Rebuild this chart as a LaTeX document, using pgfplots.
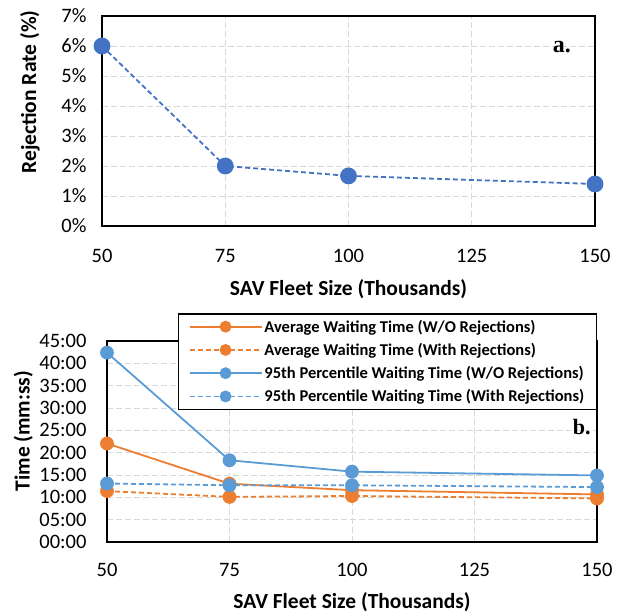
\documentclass[border=0pt]{standalone}
\usepackage{fontspec}
\setmainfont{Carlito}
\newfontfamily\timesfont{Liberation Serif}
\usepackage{pgfplots}
\pgfplotsset{compat=1.18}
\definecolor{exblue}{HTML}{4472C4}
\definecolor{exorange}{HTML}{ED7D31}
\definecolor{exlblue}{HTML}{5B9BD5}
\definecolor{gridgray}{HTML}{D9D9D9}
\begin{document}
\begin{tikzpicture}
\useasboundingbox (0pt,0pt) rectangle (619pt,614pt);
\pgfplotsset{common/.style={
  scale only axis, clip=false,
  axis line style={black,line width=1.6pt},
  major tick length=0pt,
  grid=major,
  major grid style={gridgray, dash pattern=on 6pt off 3pt, line width=1pt},
  tick label style={font=\fontsize{20.5}{22}\selectfont},
  label style={font=\bfseries\fontsize{21.5}{24}\selectfont},
  xmin=50, xmax=150,
  xtick={50,75,100,125,150},
  xticklabels={50,75,100,125,150},
}}
% ---------------- panel a ----------------
\begin{axis}[common,
  at={(102pt,388pt)}, anchor=south west,
  width=493pt, height=210pt,
  ymin=0, ymax=7,
  ytick={0,1,2,3,4,5,6,7},
  yticklabels={0\%,1\%,2\%,3\%,4\%,5\%,6\%,7\%},
  yticklabel style={xshift=-12pt},
  xticklabel style={yshift=-20pt},
  xlabel={SAV Fleet Size (Thousands)},
  ylabel={Rejection Rate (\%)},
  xlabel style={at={(axis description cs:0.5,-0.3)}, anchor=center},
  ylabel style={at={(axis description cs:-0.146,0.638)}, anchor=center},
]
\addplot[exblue, line width=1.8pt, dash pattern=on 5pt off 3pt, mark=*, mark size=7.5pt, mark options={solid, fill=exblue}]
  coordinates {(50,6.0) (75,2.0) (100,1.67) (150,1.4)};
\node[font=\timesfont\bfseries\fontsize{24}{26}\selectfont] at (axis cs:143.3,5.97) {a.};
\end{axis}
% ---------------- panel b ----------------
\begin{axis}[common,
  at={(107pt,72pt)}, anchor=south west,
  width=490pt, height=201pt,
  ymin=0, ymax=45,
  ytick={0,5,10,15,20,25,30,35,40,45},
  yticklabels={00:00,05:00,10:00,15:00,20:00,25:00,30:00,35:00,40:00,45:00},
  yticklabel style={xshift=-17pt},
  xticklabel style={yshift=-18pt},
  xlabel={SAV Fleet Size (Thousands)},
  ylabel={Time (mm:ss)},
  xlabel style={at={(axis description cs:0.5,-0.298)}, anchor=center},
  ylabel style={at={(axis description cs:-0.171,0.552)}, anchor=center},
  legend cell align=left,
  legend image code/.code={
    \draw[mark repeat=2,mark phase=2,#1,line width=1.8pt,mark size=5pt] plot coordinates {(0pt,0pt) (36pt,0pt) (72pt,0pt)};
  },
  legend style={at={(axis description cs:1,1.139)}, anchor=north east,
    draw=black, line width=1.5pt, fill=white,
    font=\bfseries\fontsize{16.5}{18}\selectfont,
    row sep=5.5pt, inner xsep=10pt, inner ysep=4pt},
]
\addplot[exorange, line width=1.8pt, solid, mark=*, mark size=6pt, mark options={solid, fill=exorange}]
  coordinates {(50,22.05) (75,13.05) (100,11.6) (150,10.65)};
\addlegendentry{Average Waiting Time (W/O Rejections)}
\addplot[exorange, line width=1.8pt, dash pattern=on 5pt off 3pt, mark=*, mark size=6pt, mark options={solid, fill=exorange}]
  coordinates {(50,11.4) (75,10.1) (100,10.3) (150,9.75)};
\addlegendentry{Average Waiting Time (With Rejections)}
\addplot[exlblue, line width=1.8pt, solid, mark=*, mark size=6pt, mark options={solid, fill=exlblue}]
  coordinates {(50,42.4) (75,18.3) (100,15.75) (150,14.9)};
\addlegendentry{95th Percentile Waiting Time (W/O Rejections)}
\addplot[exlblue, line width=1.8pt, dash pattern=on 5pt off 3pt, mark=*, mark size=6pt, mark options={solid, fill=exlblue}]
  coordinates {(50,13.1) (75,12.7) (100,12.7) (150,12.3)};
\addlegendentry{95th Percentile Waiting Time (With Rejections)}
\node[font=\timesfont\bfseries\fontsize{22}{24}\selectfont] at (axis cs:146.9,25.75) {b.};
\end{axis}
\end{tikzpicture}
\end{document}
